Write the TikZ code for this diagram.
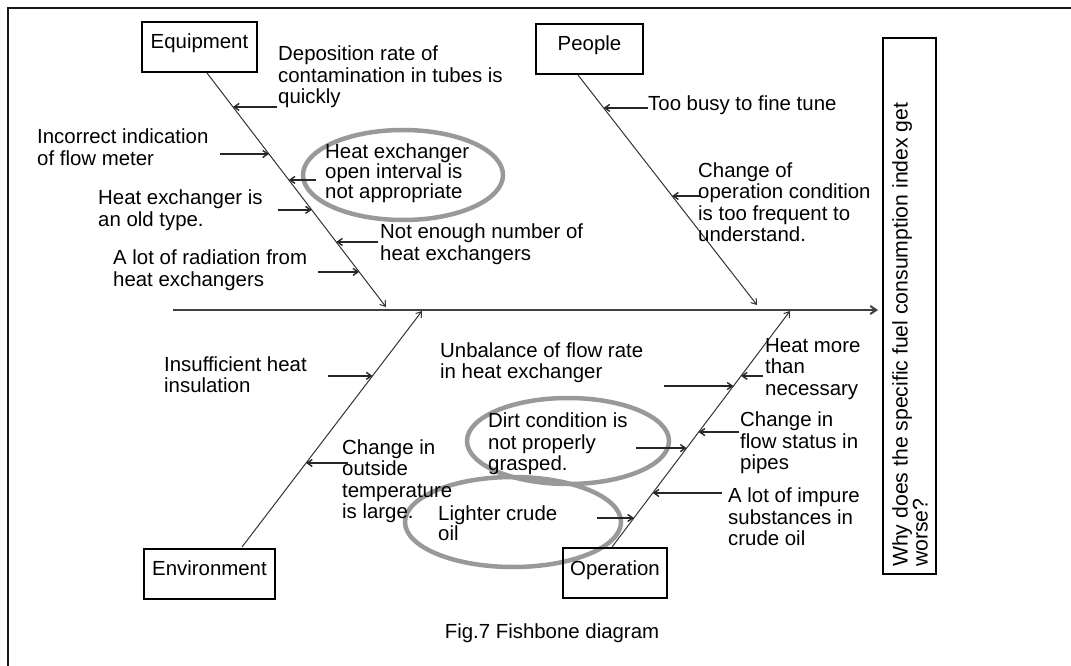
\documentclass[tikz,border=0pt]{standalone}
\usepackage{fontspec}
\setmainfont{Liberation Sans}
\usetikzlibrary{arrows.meta,calc}
\tikzset{
  txt/.style={font=\fontsize{20.4}{21.5}\selectfont, inner sep=0pt, align=left, anchor=west},
  catbox/.style={draw, line width=2pt, font=\fontsize{20.4}{21.5}\selectfont, inner xsep=0pt, inner ysep=0pt, text height=27pt, text depth=23pt},
  frameline/.style={line width=2pt, black!90},
  spine/.style={line width=2pt, black!75, -{Straight Barb[length=6pt,width=8pt]}},
  bone/.style={line width=1pt, black!80, -{Straight Barb[length=5pt,width=7pt]}},
  sub/.style={line width=1.4pt, black!85, -{Straight Barb[length=5pt,width=7pt]}},
  ring/.style={draw=black!40, line width=4.5pt},
}
\begin{document}
\begin{tikzpicture}[x=1pt,y=-1pt]
\useasboundingbox (0,0) rectangle (1071,666);
% frame
\coordinate (f0) at (8,8);
\coordinate (f1) at (1071,8);
\coordinate (f2) at (8,666);
\draw[frameline] (f1) -- (f0) -- (f2);

% ellipses
\draw[ring] (403,175) ellipse [x radius=100pt, y radius=45pt];
\draw[ring] (568,441) ellipse [x radius=101pt, y radius=43pt];
\draw[ring] (513,522) ellipse [x radius=108pt, y radius=45pt];

% category boxes
\node[catbox, minimum width=115pt] (eq) at (199.5,47) {Equipment};
\node[catbox, minimum width=107pt] (pe) at (589.5,49) {People};
\node[catbox, minimum width=131pt] (en) at (209.5,573.5) {Environment};
\node[catbox, minimum width=104pt] (op) at (615,573) {Operation};
\node[draw, line width=2pt, minimum width=53pt, minimum height=536pt] (ef) at (909.5,306) {};
\node[txt, rotate=90, anchor=west, font=\fontsize{21.2}{20}\selectfont] (eft) at (910,567) {Why does the specific fuel consumption index get\\worse?};

% spine
\coordinate (sp0) at (173,310);
\coordinate (sp1) at (878,310);
\draw[spine] (sp0) -- (sp1);

% bones
\coordinate (eqS) at (207,73);  \coordinate (eqT) at (386,307);
\coordinate (peS) at (578,75);  \coordinate (peT) at (757,305);
\coordinate (enS) at (242,547); \coordinate (enT) at (422,311);
\coordinate (opS) at (612,547); \coordinate (opT) at (790,311);
\draw[bone] (eqS) -- (eqT);
\draw[bone] (peS) -- (peT);
\draw[bone] (enS) -- (enT);
\draw[bone] (opS) -- (opT);

% Equipment causes
\node[txt] (d1) at (278,77) {Deposition rate of\\contamination in tubes is\\quickly};
\node[txt] (d2) at (37,147) {Incorrect indication\\of flow meter};
\node[txt, font=\fontsize{20.4}{18.5}\selectfont] (d3) at (325,173) {Heat exchanger\\open interval is\\not appropriate};
\node[txt] (d4) at (98,210) {Heat exchanger is\\an old type.};
\node[txt] (d5) at (380,244) {Not enough number of\\heat exchangers};
\node[txt] (d6) at (113,270) {A lot of radiation from\\heat exchangers};

\coordinate (e1) at ($(eqS)!0.145!(eqT)$); \coordinate (e1s) at ([xshift=44pt]e1);
\coordinate (e2) at ($(eqS)!0.346!(eqT)$); \coordinate (e2s) at ([xshift=-49pt]e2);
\coordinate (e3) at ($(eqS)!0.457!(eqT)$); \coordinate (e3s) at ([xshift=27pt]e3);
\coordinate (e4) at ($(eqS)!0.585!(eqT)$); \coordinate (e4s) at ([xshift=-34pt]e4);
\coordinate (e5) at ($(eqS)!0.722!(eqT)$); \coordinate (e5s) at ([xshift=42pt]e5);
\coordinate (e6) at ($(eqS)!0.850!(eqT)$); \coordinate (e6s) at ([xshift=-41pt]e6);
\foreach \i in {1,...,6} \draw[sub] (e\i s) -- (e\i);

% People causes
\node[txt] (p1t) at (648,105) {Too busy to fine tune};
\node[txt] (p2t) at (698,202) {Change of\\operation condition\\is too frequent to\\understand.};
\coordinate (p1) at ($(peS)!0.143!(peT)$); \coordinate (p1s) at ([xshift=44pt]p1);
\coordinate (p2) at ($(peS)!0.526!(peT)$); \coordinate (p2s) at ([xshift=28pt]p2);
\draw[sub] (p1s) -- (p1);
\draw[sub] (p2s) -- (p2);

% Environment causes
\node[txt] (n1t) at (164,374.5) {Insufficient heat\\insulation};
\node[txt] (n2t) at (342,481) {Change in\\outside\\temperature\\is large.};
\coordinate (n1) at ($(enS)!0.725!(enT)$); \coordinate (n1s) at ([xshift=-45pt]n1);
\coordinate (n2) at ($(enS)!0.356!(enT)$); \coordinate (n2s) at ([xshift=42pt]n2);
\draw[sub] (n1s) -- (n1);
\draw[sub] (n2s) -- (n2);

% Operation causes
\node[txt] (o1t) at (440,362.5) {Unbalance of flow rate\\in heat exchanger};
\node[txt] (o2t) at (765,369) {Heat more\\than\\necessary};
\node[txt] (o3t) at (488,444) {Dirt condition is\\not properly\\grasped.};
\node[txt] (o4t) at (740,443) {Change in\\flow status in\\pipes};
\node[txt] (o5t) at (728,517) {A lot of impure\\substances in\\crude oil};
\node[txt, font=\fontsize{20.4}{20}\selectfont] (o6t) at (438,523) {Lighter crude\\oil};
\coordinate (o1) at ($(opS)!0.682!(opT)$); \coordinate (o1s) at ([xshift=-69pt]o1);
\coordinate (o2) at ($(opS)!0.725!(opT)$); \coordinate (o2s) at ([xshift=22pt]o2);
\coordinate (o3) at ($(opS)!0.419!(opT)$); \coordinate (o3s) at ([xshift=-51pt]o3);
\coordinate (o4) at ($(opS)!0.487!(opT)$); \coordinate (o4s) at ([xshift=40pt]o4);
\coordinate (o5) at ($(opS)!0.229!(opT)$); \coordinate (o5s) at ([xshift=69pt]o5);
\coordinate (o6) at ($(opS)!0.123!(opT)$); \coordinate (o6s) at ([xshift=-37pt]o6);
\foreach \i in {1,...,6} \draw[sub] (o\i s) -- (o\i);

% caption
\node[font=\fontsize{20.4}{21.5}\selectfont, inner sep=0pt] (cap) at (552,633) {Fig.7 Fishbone diagram};
\end{tikzpicture}
\end{document}
